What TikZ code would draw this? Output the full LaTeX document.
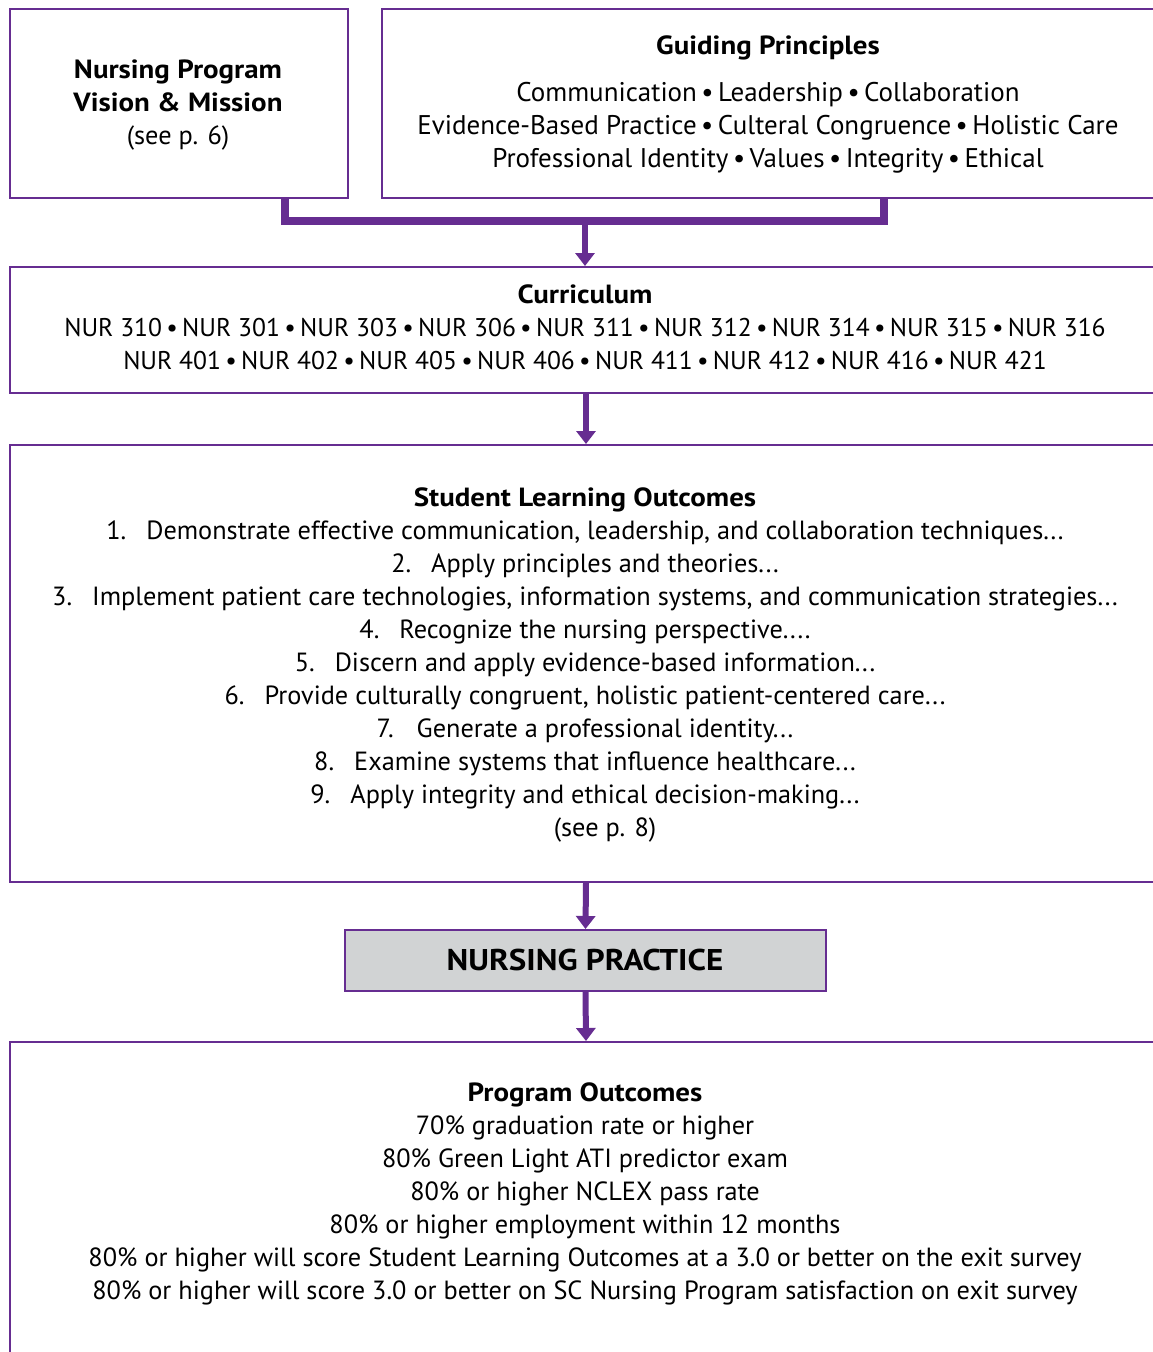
\documentclass[tikz,border=0pt]{standalone}
\usepackage{fontspec}
\setmainfont{PT Sans}[BoldFeatures={FakeStretch=1.1}]
\usetikzlibrary{arrows.meta}
\definecolor{np}{RGB}{102,45,145}
\definecolor{npgray}{RGB}{209,211,212}
\tikzset{
  box/.style={draw=np, line width=2pt, fill=white, rectangle, anchor=north west, inner sep=0pt},
  txt/.style={anchor=base, inner sep=0pt, font=\fontsize{26.3}{33}\selectfont, text=black},
  numtxt/.style={txt, font=\fontsize{25.6}{33}\selectfont},
  gtxt/.style={txt, font=\fontsize{27}{33}\selectfont},
  ttl/.style={txt, font=\fontsize{26.3}{33}\selectfont\bfseries},
  bracket/.style={draw=np, line width=8pt},
  flow/.style={draw=np, line width=6pt, -{Triangle[width=19pt,length=13pt]}, shorten >=0pt},
}
\newcommand{\bul}{\,\raisebox{0pt}{\textbullet}\,}
\newcommand{\itm}[1]{\makebox[40pt][l]{#1}}
\begin{document}
\begin{tikzpicture}[x=1pt,y=-1pt]
\useasboundingbox (0,0) rectangle (1153,1352);
\clip (0,0) rectangle (1153,1352);
\fill[white] (0,0) rectangle (1153,1352);
% boxes
\node[box, minimum width=338pt, minimum height=189pt] (vision) at (9,8) {};
\node[box, minimum width=775pt, minimum height=189pt] (guide) at (381,8) {};
\node[box, minimum width=1152pt, minimum height=126pt] (curr) at (9,266) {};
\node[box, minimum width=1152pt, minimum height=437pt] (slo) at (9,444) {};
\node[box, fill=npgray, minimum width=481pt, minimum height=61pt] (prac) at (344,929) {};
\node[box, minimum width=1152pt, minimum height=340pt] (prog) at (9,1041) {};
% vision text
\node[ttl] (v1) at (178,78) {Nursing Program};
\node[ttl] (v2) at (178,111) {Vision \& Mission};
\node[txt] (v3) at (178,144) {(see p. 6)};
% guiding principles
\node[ttl] (g0) at (768,54) {Guiding Principles};
\node[gtxt] (g1) at (768,101) {Communication\bul Leadership\bul Collaboration};
\node[gtxt] (g2) at (768,134) {Evidence-Based Practice\bul Culteral Congruence\bul Holistic Care};
\node[gtxt] (g3) at (768,167) {Professional Identity\bul Values\bul Integrity\bul Ethical};
% curriculum
\node[ttl] (c0) at (585,303) {Curriculum};
\node[numtxt] (c1) at (585,336) {NUR 310\bul NUR 301\bul NUR 303\bul NUR 306\bul NUR 311\bul NUR 312\bul NUR 314\bul NUR 315\bul NUR 316};
\node[numtxt] (c2) at (585,369) {NUR 401\bul NUR 402\bul NUR 405\bul NUR 406\bul NUR 411\bul NUR 412\bul NUR 416\bul NUR 421};
% SLO
\node[ttl] (s0) at (585,506) {Student Learning Outcomes};
\node[txt] (s1) at (585,539) {\itm{1.}Demonstrate effective communication, leadership, and collaboration techniques...};
\node[txt] (s2) at (585,572) {\itm{2.}Apply principles and theories...};
\node[txt] (s3) at (585,605) {\itm{3.}Implement patient care technologies, information systems, and communication strategies...};
\node[txt] (s4) at (585,638) {\itm{4.}Recognize the nursing perspective....};
\node[txt] (s5) at (585,671) {\itm{5.}Discern and apply evidence-based information...};
\node[txt] (s6) at (585,704) {\itm{6.}Provide culturally congruent, holistic patient-centered care...};
\node[txt] (s7) at (585,737) {\itm{7.}Generate a professional identity...};
\node[txt] (s8) at (585,770) {\itm{8.}Examine systems that influence healthcare...};
\node[txt] (s9) at (585,803) {\itm{9.}Apply integrity and ethical decision-making...};
\node[txt] (s10) at (605,836) {(see p. 8)};
% nursing practice
\node[txt, font=\fontsize{30}{36}\selectfont\bfseries] (p0) at (585,970) {NURSING PRACTICE};
% program outcomes
\node[ttl] (o0) at (585,1101) {Program Outcomes};
\node[txt] (o1) at (585,1134) {70\% graduation rate or higher};
\node[txt] (o2) at (585,1167) {80\% Green Light ATI predictor exam};
\node[txt] (o3) at (585,1200) {80\% or higher NCLEX pass rate};
\node[txt] (o4) at (585,1233) {80\% or higher employment within 12 months};
\node[txt] (o5) at (585,1266) {80\% or higher will score Student Learning Outcomes at a 3.0 or better on the exit survey};
\node[txt] (o6) at (585,1299) {80\% or higher will score 3.0 or better on SC Nursing Program satisfaction on exit survey};
% connectors
\coordinate (jl) at (285,221);
\coordinate (jr) at (884,221);
\coordinate (jm) at (585,221);
\draw[bracket] (jl |- vision.south) -- (jl) -- (jr) -- (jr |- guide.south);
\draw[flow] (jm) -- (jm |- curr.north);
\draw[flow] (curr.south) -- (slo.north);
\draw[flow] (slo.south) -- (prac.north);
\draw[flow] (prac.south) -- (prog.north);
\end{tikzpicture}
\end{document}
